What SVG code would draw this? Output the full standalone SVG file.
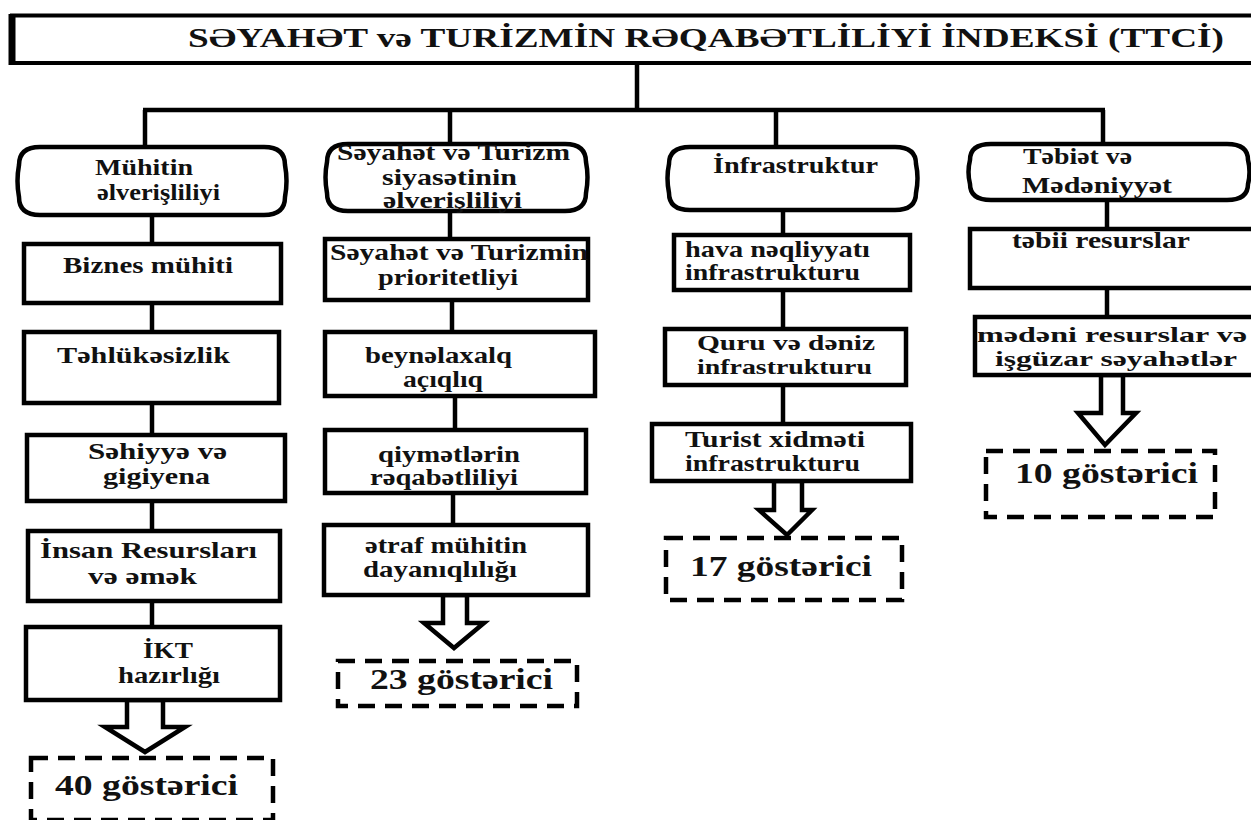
<svg xmlns="http://www.w3.org/2000/svg" width="1251" height="820" viewBox="0 0 1251 820" font-family="'Liberation Serif', serif" font-weight="bold">
<style>
  .box{fill:#fff;stroke:#000;stroke-width:4.5}
  .hdr{fill:#fff;stroke:#000;stroke-width:4.5}
  .dash{fill:none;stroke:#000;stroke-width:4.5;stroke-dasharray:17 10}
  .ln{fill:none;stroke:#000;stroke-width:4.5}
  .arr{fill:#fff;stroke:#000;stroke-width:4.5;stroke-linejoin:miter}
  text{font-family:'Liberation Serif',serif;font-weight:700;fill:#111}
  .t{font-size:23px}
  .s{font-size:21px}
  .big{font-size:29px}
  .title{font-size:27px}
</style>
<rect width="1251" height="820" fill="#fff"/>

<g id="connectors">
  <line class="ln" x1="637" y1="63" x2="637" y2="110"/>
  <line class="ln" x1="143" y1="110" x2="1105" y2="110"/>
  <line class="ln" x1="145" y1="110" x2="145" y2="147"/>
  <line class="ln" x1="450" y1="110" x2="450" y2="144"/>
  <line class="ln" x1="776" y1="110" x2="776" y2="147"/>
  <line class="ln" x1="1103" y1="110" x2="1103" y2="144"/>
  <line class="ln" x1="152" y1="215" x2="152" y2="244"/>
  <line class="ln" x1="152" y1="303" x2="152" y2="332"/>
  <line class="ln" x1="152" y1="403" x2="152" y2="435"/>
  <line class="ln" x1="152" y1="501" x2="152" y2="531"/>
  <line class="ln" x1="152" y1="601" x2="152" y2="627"/>
  <line class="ln" x1="450" y1="211" x2="450" y2="239"/>
  <line class="ln" x1="452" y1="300" x2="452" y2="332"/>
  <line class="ln" x1="455" y1="396" x2="455" y2="430"/>
  <line class="ln" x1="453" y1="493" x2="453" y2="525"/>
  <line class="ln" x1="783" y1="210" x2="783" y2="235"/>
  <line class="ln" x1="783" y1="290" x2="783" y2="329"/>
  <line class="ln" x1="783" y1="385" x2="783" y2="424"/>
  <line class="ln" x1="1107" y1="200" x2="1107" y2="229"/>
  <line class="ln" x1="1107" y1="288" x2="1107" y2="317"/>
  <polygon class="arr" points="127,700 127,727 105,727 145,752 185,727 163,727 163,700"/>
  <polygon class="arr" points="443,595 443,623 424,623 454,648 484,623 467,623 467,595"/>
  <polygon class="arr" points="774,481 774,510 759,510 787,535 812,510 802,510 802,481"/>
  <polygon class="arr" points="1101,375 1101,413 1078,413 1105,445 1136,413 1123,413 1123,375"/>
</g>

<g id="title">
  <rect class="box" x="12" y="15.5" width="1260" height="47.5" style="stroke-width:4"/>
  <line x1="12" y1="14" x2="12" y2="65" stroke="#000" stroke-width="7"/>
  <text class="title" x="188" y="47" textLength="1036" lengthAdjust="spacingAndGlyphs">SƏYAHƏT və TURİZMİN RƏQABƏTLİLİYİ İNDEKSİ  (TTCİ)</text>
</g>

<g id="h1">
  <path class="hdr" d="M40,147 H264 Q285,147 285,165 Q288,181 285,197 Q285,215 264,215 H40 Q19,215 19,197 Q16,181 19,165 Q19,147 40,147 Z"/>
  <text class="t" x="95" y="175" textLength="98" lengthAdjust="spacingAndGlyphs">Mühitin</text>
  <text class="t" x="97" y="200" textLength="123" lengthAdjust="spacingAndGlyphs">əlverişliliyi</text>
</g>
<g id="n1a">
  <rect class="box" x="24" y="244" width="257" height="59"/>
  <text class="t" x="63" y="273" textLength="170" lengthAdjust="spacingAndGlyphs">Biznes mühiti</text>
</g>
<g id="n1b">
  <rect class="box" x="24" y="332" width="255" height="71"/>
  <text class="t" x="57" y="363" textLength="173" lengthAdjust="spacingAndGlyphs">Təhlükəsizlik</text>
</g>
<g id="n1c">
  <rect class="box" x="27" y="435" width="258" height="66"/>
  <text class="t" x="88" y="459" textLength="139" lengthAdjust="spacingAndGlyphs">Səhiyyə və</text>
  <text class="t" x="103" y="484" textLength="107" lengthAdjust="spacingAndGlyphs">gigiyena</text>
</g>
<g id="n1d">
  <rect class="box" x="28" y="531" width="252" height="70"/>
  <text class="t" x="40" y="558" textLength="217" lengthAdjust="spacingAndGlyphs">İnsan Resursları</text>
  <text class="t" x="88" y="584" textLength="109" lengthAdjust="spacingAndGlyphs">və əmək</text>
</g>
<g id="n1e">
  <rect class="box" x="26" y="627" width="254" height="73"/>
  <text class="t" x="143" y="658" textLength="50" lengthAdjust="spacingAndGlyphs">İKT</text>
  <text class="t" x="118" y="683" textLength="102" lengthAdjust="spacingAndGlyphs">hazırlığı</text>
</g>
<g id="r1">
  <rect class="dash" x="31" y="758" width="242" height="62"/>
  <text class="big" x="55" y="795" textLength="183" lengthAdjust="spacingAndGlyphs">40 göstərici</text>
</g>

<g id="h2">
  <path class="hdr" d="M348,144 H565 Q586,144 586,162 Q589,177 586,193 Q586,211 565,211 H348 Q327,211 327,193 Q324,177 327,162 Q327,144 348,144 Z"/>
  <text class="t" x="337" y="160" textLength="233" lengthAdjust="spacingAndGlyphs">Səyahət və Turizm</text>
  <text class="t" x="382" y="185" textLength="135" lengthAdjust="spacingAndGlyphs">siyasətinin</text>
  <text class="t" x="383" y="208" textLength="139" lengthAdjust="spacingAndGlyphs">əlverişliliyi</text>
</g>
<g id="n2a">
  <rect class="box" x="325" y="239" width="263" height="61"/>
  <text class="t" x="330" y="260" textLength="258" lengthAdjust="spacingAndGlyphs">Səyahət və Turizmin</text>
  <text class="t" x="378" y="285" textLength="140" lengthAdjust="spacingAndGlyphs">prioritetliyi</text>
</g>
<g id="n2b">
  <rect class="box" x="325" y="332" width="270" height="64"/>
  <text class="t" x="365" y="363" textLength="147" lengthAdjust="spacingAndGlyphs">beynəlaxalq</text>
  <text class="t" x="403" y="387" textLength="80" lengthAdjust="spacingAndGlyphs">açıqlıq</text>
</g>
<g id="n2c">
  <rect class="box" x="325" y="430" width="261" height="63"/>
  <text class="t" x="378" y="462" textLength="142" lengthAdjust="spacingAndGlyphs">qiymətlərin</text>
  <text class="t" x="370" y="485" textLength="148" lengthAdjust="spacingAndGlyphs">rəqabətliliyi</text>
</g>
<g id="n2d">
  <rect class="box" x="324" y="525" width="264" height="70"/>
  <text class="t" x="365" y="553" textLength="162" lengthAdjust="spacingAndGlyphs">ətraf mühitin</text>
  <text class="t" x="363" y="577" textLength="154" lengthAdjust="spacingAndGlyphs">dayanıqlılığı</text>
</g>
<g id="r2">
  <rect class="dash" x="338" y="661" width="239" height="45"/>
  <text class="big" x="370" y="689" textLength="183" lengthAdjust="spacingAndGlyphs">23 göstərici</text>
</g>

<g id="h3">
  <path class="hdr" d="M690,147 H895 Q916,147 916,164 Q919,178 916,193 Q916,210 895,210 H690 Q669,210 669,193 Q666,178 669,164 Q669,147 690,147 Z"/>
  <text class="t" x="713" y="173" textLength="165" lengthAdjust="spacingAndGlyphs">İnfrastruktur</text>
</g>
<g id="n3a">
  <rect class="box" x="674" y="235" width="236" height="55"/>
  <text class="t" x="685" y="257" textLength="185" lengthAdjust="spacingAndGlyphs">hava nəqliyyatı</text>
  <text class="t" x="685" y="280" textLength="175" lengthAdjust="spacingAndGlyphs">infrastrukturu</text>
</g>
<g id="n3b">
  <rect class="box" x="665" y="329" width="241" height="56"/>
  <text class="s" x="697" y="350" textLength="178" lengthAdjust="spacingAndGlyphs">Quru və dəniz</text>
  <text class="s" x="697" y="374" textLength="175" lengthAdjust="spacingAndGlyphs">infrastrukturu</text>
</g>
<g id="n3c">
  <rect class="box" x="652" y="424" width="259" height="57"/>
  <text class="t" x="685" y="447" textLength="180" lengthAdjust="spacingAndGlyphs">Turist xidməti</text>
  <text class="t" x="685" y="471" textLength="175" lengthAdjust="spacingAndGlyphs">infrastrukturu</text>
</g>
<g id="r3">
  <rect class="dash" x="666" y="538" width="236" height="62"/>
  <text class="big" x="690" y="576" textLength="182" lengthAdjust="spacingAndGlyphs">17 göstərici</text>
</g>

<g id="h4">
  <path class="hdr" d="M991,144 H1227 Q1248,144 1248,160 Q1251,172 1248,184 Q1248,200 1227,200 H991 Q970,200 970,184 Q967,172 970,160 Q970,144 991,144 Z"/>
  <text class="t" x="1023" y="164" textLength="109" lengthAdjust="spacingAndGlyphs">Təbiət və</text>
  <text class="t" x="1022" y="193" textLength="150" lengthAdjust="spacingAndGlyphs">Mədəniyyət</text>
</g>
<g id="n4a">
  <rect class="box" x="970" y="229" width="290" height="59"/>
  <text class="t" x="1012" y="248" textLength="178" lengthAdjust="spacingAndGlyphs">təbii resurslar</text>
</g>
<g id="n4b">
  <rect class="box" x="975" y="317" width="285" height="58"/>
  <text class="s" x="977" y="342" textLength="270" lengthAdjust="spacingAndGlyphs">mədəni resurslar və</text>
  <text class="s" x="995" y="366" textLength="242" lengthAdjust="spacingAndGlyphs">işgüzar səyahətlər</text>
</g>
<g id="r4">
  <rect class="dash" x="986" y="451" width="229" height="66"/>
  <text class="big" x="1015" y="483" textLength="183" lengthAdjust="spacingAndGlyphs">10 göstərici</text>
</g>
</svg>
